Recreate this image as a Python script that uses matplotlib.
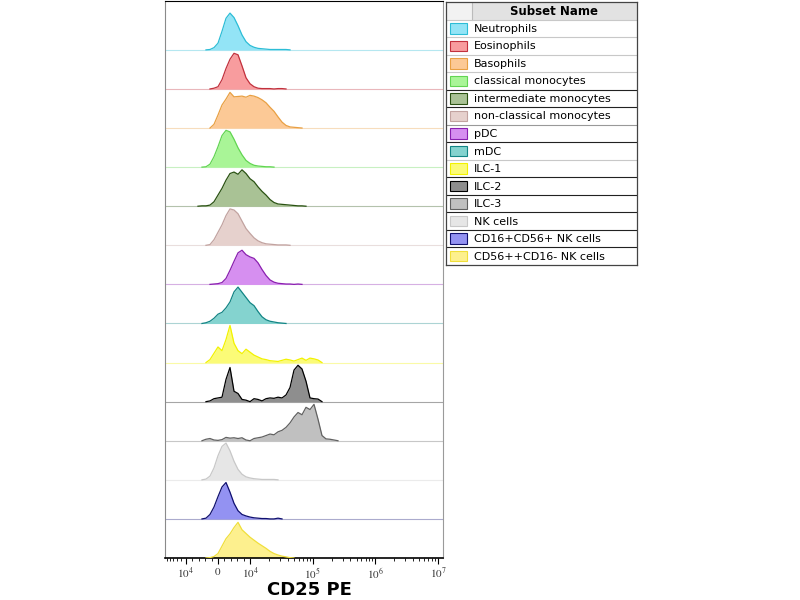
import numpy as np
import matplotlib
matplotlib.use("Agg")
import matplotlib.pyplot as plt
from matplotlib.patches import Rectangle

# CD25 PE values of the histogram sampling points (symlog axis)
cd25_grid = [-6250, -5000, -3750, -2500, -1250, 0, 1250, 2500, 3750, 5000, 6250, 7500, 8750,
             10000, 11580, 13420, 15540, 18000, 20840, 24140, 27960, 32390, 37520, 43450,
             50330, 58300, 67500, 78200, 90560, 104900, 121500, 140700, 163000, 188800,
             218700, 253300]

subsets = ['Neutrophils', 'Eosinophils', 'Basophils', 'classical monocytes',
           'intermediate monocytes', 'non-classical monocytes', 'pDC', 'mDC',
           'ILC-1', 'ILC-2', 'ILC-3', 'NK cells', 'CD16+CD56+ NK cells',
           'CD56++CD16- NK cells']

# % of mode
neutrophils = [0, 0, 0, 1, 6, 18, 50, 85, 99, 87, 65, 40, 22, 12, 7, 4, 3, 2, 1, 1, 1, 1, 1]
eosinophils = [0, 0, 0, 0, 2, 6, 25, 55, 80, 96, 92, 62, 30, 14, 6, 2, 1, 1, 1, 0, 1, 1]
basophils = [0, 0, 0, 0, 10, 35, 62, 78, 96, 84, 85, 86, 83, 88, 86, 82, 76, 68, 56, 45,
             30, 16, 7, 3, 2, 1]
classical_mono = [0, 0, 1, 8, 28, 55, 85, 99, 95, 75, 52, 33, 18, 10, 5, 3, 2, 1, 1]
intermediate_mono = [0, 1, 1, 3, 12, 30, 48, 70, 88, 92, 86, 98, 88, 74, 66, 52, 40, 30,
                     18, 10, 6, 5, 4, 3, 2, 1, 1]
nonclassical_mono = [0, 0, 0, 2, 15, 35, 55, 80, 98, 95, 85, 65, 45, 32, 20, 12, 7, 4, 3,
                     2, 1, 1, 1]
pdc = [0, 0, 0, 0, 1, 2, 5, 16, 38, 62, 85, 92, 80, 74, 70, 58, 40, 24, 12, 6, 3, 2, 1, 1,
       0, 1]
mdc = [0, 0, 2, 6, 14, 25, 30, 42, 58, 85, 98, 84, 70, 56, 48, 32, 18, 10, 6, 4, 2, 1]
ilc1 = [0, 0, 0, 8, 25, 42, 32, 62, 100, 52, 32, 24, 36, 28, 20, 15, 10, 8, 5, 4, 3, 6, 9,
        7, 4, 8, 12, 6, 12, 10, 7, 0]
ilc2 = [0, 0, 0, 2, 8, 10, 12, 60, 92, 28, 22, 6, 4, 0, 8, 6, 2, 8, 10, 9, 12, 10, 18, 38,
        85, 98, 88, 55, 10, 8, 7, 0]
ilc3 = [0, 0, 4, 6, 2, 1, 3, 9, 7, 8, 6, 8, 2, 0, 6, 8, 10, 14, 18, 16, 24, 28, 36, 48,
        64, 76, 70, 90, 84, 98, 58, 14, 5, 4, 2, 0]
nk_cells = [0, 0, 2, 10, 32, 65, 90, 99, 78, 50, 28, 15, 8, 5, 3, 2, 1, 1, 1, 1]
cd16_nk = [0, 0, 2, 12, 32, 60, 86, 98, 72, 42, 22, 12, 8, 5, 3, 2, 1, 1, 0, 0, 2, 0]
cd56_nk = [0, 0, 0, 1, 4, 12, 32, 52, 65, 82, 96, 76, 66, 56, 48, 40, 33, 26, 18, 12, 8,
           5, 3, 1]

series = [neutrophils, eosinophils, basophils, classical_mono, intermediate_mono,
          nonclassical_mono, pdc, mdc, ilc1, ilc2, ilc3, nk_cells, cd16_nk, cd56_nk]

fill_colors = ['#93e4f6', '#f89c9e', '#fcc996', '#a9f597', '#a9c295', '#e6d1cd',
               '#d68ff0', '#84d3cf', '#fbfb77', '#8e8e8e', '#c0c0c0', '#e6e6e6',
               '#9392f2', '#fdf08e']
edge_colors = ['#2cbdd6', '#c2313d', '#e9a043', '#62d552', '#2a5212', '#c2a3a0',
               '#8a1fb0', '#128585', '#f2f200', '#000000', '#616161', '#c8c8c8',
               '#101070', '#f0df3a']

tick_values = [-1e4, 0, 1e4, 1e5, 1e6, 1e7]
tick_labels = ['$10^{4}$', '$0$', '$10^{4}$', '$10^{5}$', '$10^{6}$', '$10^{7}$']

plt.rcParams['mathtext.fontset'] = 'stix'

fig = plt.figure(figsize=(8, 6), dpi=100)
ax = fig.add_axes([165 / 800, 1 - 558 / 600, 278 / 800, 557 / 600])
ax.set_xscale('symlog', linthresh=1e4, linscale=0.46)
ax.set_xlim(-2.16e4, 1.2e7)
ax.set_ylim(0, 14.25)

x = np.array(cd25_grid, dtype=float)
n_rows = len(subsets)
for i, (vals, fc, ec) in enumerate(zip(series, fill_colors, edge_colors)):
    base = n_rows - 1 - i
    h = np.zeros(len(x))
    h[:len(vals)] = vals
    y = base + h / 100 * 0.95
    if base > 0:
        ax.axhline(base, color=ec, alpha=0.35, lw=0.8, zorder=1)
    ax.fill_between(x, base, y, color=fc, lw=0, zorder=2)
    # hide the outline where the curve lies flat on the baseline
    nz = h > 0
    keep = nz | np.roll(nz, 1) | np.roll(nz, -1)
    ax.plot(x, np.ma.masked_where(~keep, y), color=ec, lw=0.9, zorder=3)

ax.set_xticks(tick_values)
ax.set_xticklabels(tick_labels, fontsize=8, color='#333333')
minor = list(range(-20000, 10000, 2000))
for dec in [1e4, 1e5, 1e6]:
    minor += [m * dec for m in range(2, 10)]
ax.set_xticks(minor, minor=True)
ax.tick_params(axis='x', which='major', length=4, width=0.8, pad=2)
ax.tick_params(axis='x', which='minor', length=2, width=0.6)
ax.set_yticks([])
ax.spines['top'].set_color('black')
ax.spines['bottom'].set_linewidth(1.2)
ax.spines['left'].set_color('#8a8a8a')
ax.spines['right'].set_color('#9a9a9a')
ax.set_xlabel('CD25 PE', fontsize=13, fontweight='bold', va='center')
ax.xaxis.set_label_coords(0.52, -0.058)

# legend table
leg = fig.add_axes([446 / 800, 1 - 265 / 600, 191 / 800, 263 / 600])
leg.set_xlim(0, 1)
leg.set_ylim(n_rows + 1, 0)
leg.set_xticks([])
leg.set_yticks([])
for s in leg.spines.values():
    s.set_color('#444444')
    s.set_linewidth(0.9)
leg.add_patch(Rectangle((0, 0), 0.136, 1, facecolor='#f2f2f2', edgecolor='none'))
leg.add_patch(Rectangle((0.136, 0), 0.864, 1, facecolor='#e2e2e2', edgecolor='none'))
leg.plot([0.136, 0.136], [0, 1], color='#bbbbbb', lw=0.8)
leg.text(0.568, 0.55, 'Subset Name', ha='center', va='center', fontsize=8.5,
         fontweight='bold')
line_colors = ['#c8c8c8', '#c8c8c8', '#c8c8c8', '#c8c8c8', '#222222', '#222222',
               '#999999', '#222222', '#c8c8c8', '#222222', '#222222', '#222222',
               '#222222', '#222222']
for i, (name, fc, ec) in enumerate(zip(subsets, fill_colors, edge_colors)):
    top = i + 1
    leg.plot([0, 1], [top, top], color=line_colors[i], lw=0.8)
    leg.add_patch(Rectangle((0.021, top + 0.2), 0.089, 0.6, facecolor=fc,
                            edgecolor=ec, lw=0.8))
    leg.text(0.147, top + 0.53, name, ha='left', va='center', fontsize=8)

fig.savefig('out.png', dpi=100)
